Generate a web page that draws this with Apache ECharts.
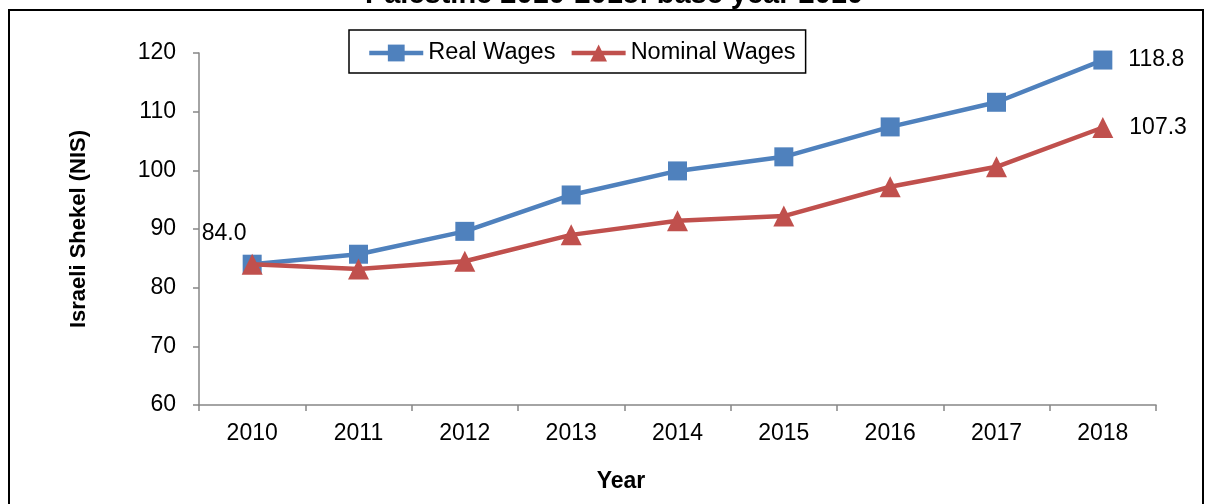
<!DOCTYPE html>
<html>
<head>
<meta charset="utf-8">
<title>Real and Nominal Wages, Palestine 2010-2018</title>
<script src="https://cdn.jsdelivr.net/npm/echarts@6/dist/echarts.min.js"></script>
<style>
  html, body { margin: 0; padding: 0; background: #ffffff; }
  #chart { width: 1207px; height: 504px; }
</style>
</head>
<body>
<div id="chart"></div>
<script>
// Average daily wage (NIS), base year 2010
const years = ['2010', '2011', '2012', '2013', '2014', '2015', '2016', '2017', '2018'];
const realWages = [84.0, 85.7, 89.6, 95.8, 99.9, 102.3, 107.4, 111.6, 118.8];
const nominalWages = [84.0, 83.2, 84.5, 89.0, 91.4, 92.2, 97.2, 100.6, 107.3];
const yTicks = [60, 70, 80, 90, 100, 110, 120];

const FONT = 'Liberation Sans, Arial, sans-serif';
const BLUE = '#4F81BD';
const RED = '#C0504D';
const AXIS = '#868686';

// value labels shown only on selected points
function withLabels(values, labelled) {
  return values.map((v, i) => {
    const cfg = labelled[i];
    if (!cfg) return v;
    return { value: v, label: Object.assign({ show: true, formatter: p => p.value.toFixed(1) }, cfg) };
  });
}

const chart = echarts.init(document.getElementById('chart'), null, { renderer: 'canvas' });

chart.setOption({
  backgroundColor: '#ffffff',
  animation: false,
  textStyle: { fontFamily: FONT },
  grid: { left: 199, right: 51, top: 53, bottom: 99, containLabel: false },
  graphic: [
    {
      type: 'rect', silent: true, z: 0,
      shape: { x: 9, y: 10, width: 1194, height: 540 },
      style: { fill: 'none', stroke: '#000000', lineWidth: 2 }
    },
    {
      type: 'text', silent: true, z: 1,
      x: 614, y: -5,
      style: {
        text: 'Palestine 2010-2018: base year 2010',
        font: 'bold 29px ' + FONT, fill: '#000000',
        align: 'center', verticalAlign: 'middle'
      }
    },
    {
      type: 'text', silent: true,
      x: 621, y: 482,
      style: {
        text: 'Year',
        font: 'bold 23px ' + FONT, fill: '#000000',
        align: 'center', verticalAlign: 'middle'
      }
    }
  ],
  legend: {
    left: 349, top: 30,
    padding: [11, 10, 8, 18],
    borderColor: '#000000', borderWidth: 1.5,
    itemWidth: 54, itemHeight: 21, itemGap: 14,
    lineStyle: { width: 4.5 },
    textStyle: { fontSize: 23.5, color: '#000000', fontFamily: FONT },
    data: ['Real Wages', 'Nominal Wages']
  },
  xAxis: {
    type: 'category',
    data: years,
    boundaryGap: true,
    axisLine: { lineStyle: { color: AXIS, width: 1.5 } },
    axisTick: { show: true, inside: false, length: 6, alignWithLabel: false, lineStyle: { color: AXIS, width: 1.5 } },
    axisLabel: { fontSize: 23, color: '#000000', margin: 17, fontFamily: FONT },
    splitLine: { show: false }
  },
  yAxis: {
    type: 'value',
    min: yTicks[0], max: yTicks[yTicks.length - 1], interval: 10,
    name: 'Israeli Shekel (NIS)',
    nameLocation: 'middle', nameGap: 109, nameRotate: 90,
    nameTextStyle: { fontSize: 22, fontWeight: 'bold', color: '#000000', fontFamily: FONT },
    axisLine: { show: true, lineStyle: { color: AXIS, width: 1.5 } },
    axisTick: { show: true, inside: false, length: 6, lineStyle: { color: AXIS, width: 1.5 } },
    axisLabel: { fontSize: 23, color: '#000000', margin: 23, fontFamily: FONT },
    splitLine: { show: false }
  },
  series: [
    {
      name: 'Real Wages', type: 'line',
      data: withLabels(realWages, { 8: { position: 'right', distance: 16 } }),
      symbol: 'rect', symbolSize: 19,
      lineStyle: { color: BLUE, width: 4.5 },
      itemStyle: { color: BLUE },
      label: { show: false, fontSize: 23, color: '#000000', fontFamily: FONT },
      z: 3
    },
    {
      name: 'Nominal Wages', type: 'line',
      data: withLabels(nominalWages, {
        0: { position: 'inside', offset: [-28, -31] },
        8: { position: 'right', distance: 16 }
      }),
      symbol: 'triangle', symbolSize: 21,
      lineStyle: { color: RED, width: 4.5 },
      itemStyle: { color: RED },
      label: { show: false, fontSize: 23, color: '#000000', fontFamily: FONT },
      z: 4
    }
  ]
});
</script>
</body>
</html>
